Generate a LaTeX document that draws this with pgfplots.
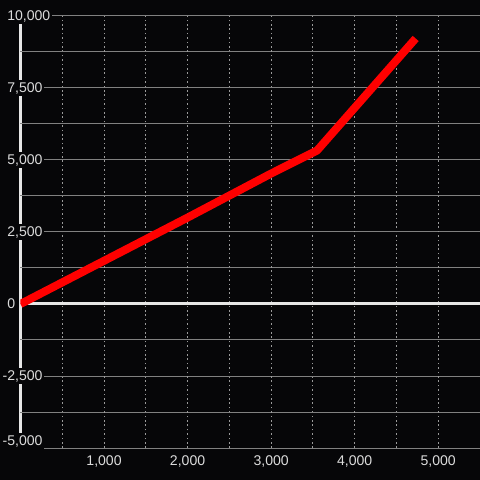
\documentclass[border=0pt]{standalone}
\usepackage{pgfplots}
\pgfplotsset{compat=1.18}
\usepackage{fontspec}
\setmainfont{Liberation Sans}
\definecolor{bg}{HTML}{060608}
\definecolor{gridc}{HTML}{808080}
\definecolor{dotc}{HTML}{9A9A9A}
\definecolor{axc}{HTML}{E6E6E6}
\definecolor{lbl}{HTML}{DCDCDC}
\begin{document}
\begin{tikzpicture}
\path[use as bounding box, fill=bg] (-0.5125cm,-0.8cm) rectangle (11.4875cm,11.2cm);
\begin{axis}[
  scale only axis,
  width=11.4875cm, height=10.8cm,
  xmin=0, xmax=5500, ymin=-5000, ymax=10000,
  scaled ticks=false,
  axis line style={draw=none},
  tick style={draw=none},
  major tick length=0pt, minor tick length=0pt,
  % x: the major tick at 0 carries the white y axis line
  xtick={0}, xticklabels={},
  minor xtick={500,1500,2500,3500,4500},
  extra x ticks={1000,2000,3000,4000,5000},
  extra x tick labels={1{,}000,2{,}000,3{,}000,4{,}000,5{,}000},
  extra x tick style={major x grid style={dotc, line width=0.025cm, dash pattern=on 0.04cm off 0.07cm}},
  ytick={-2500,0,2500,5000,7500,10000},
  yticklabels={\llap{-}2{,}500,0,2{,}500,5{,}000,7{,}500,10{,}000},
  minor ytick={-3750,-1250,1250,3750,6250,8750},
  xmajorgrids, xminorgrids, ymajorgrids, yminorgrids,
  major x grid style={axc, line width=0.075cm},
  minor x grid style={dotc, line width=0.025cm, dash pattern=on 0.04cm off 0.07cm},
  y grid style={gridc, line width=0.025cm},
  extra y ticks={-5000}, extra y tick labels={\llap{-}5{,}000},
  extra y tick style={yticklabel style={yshift=0.175cm}},
  yticklabel style={anchor=west, xshift=-0.3875cm, fill=bg, inner sep=0.05cm,
    text=lbl, font=\fontsize{10}{12}\selectfont},
  xticklabel style={anchor=north, yshift=-0.125cm, inner sep=0.05cm,
    text=lbl, font=\fontsize{10}{12}\selectfont},
]
\draw[axc, line width=0.075cm] (axis cs:0,0) -- (axis cs:5500,0);
\addplot[color=red, line width=0.2cm, line join=round] coordinates {
  (0,0) (1000,1500) (2000,3000) (3000,4530) (3550,5330) (4730,9220)
};
\end{axis}
\end{tikzpicture}
\end{document}
